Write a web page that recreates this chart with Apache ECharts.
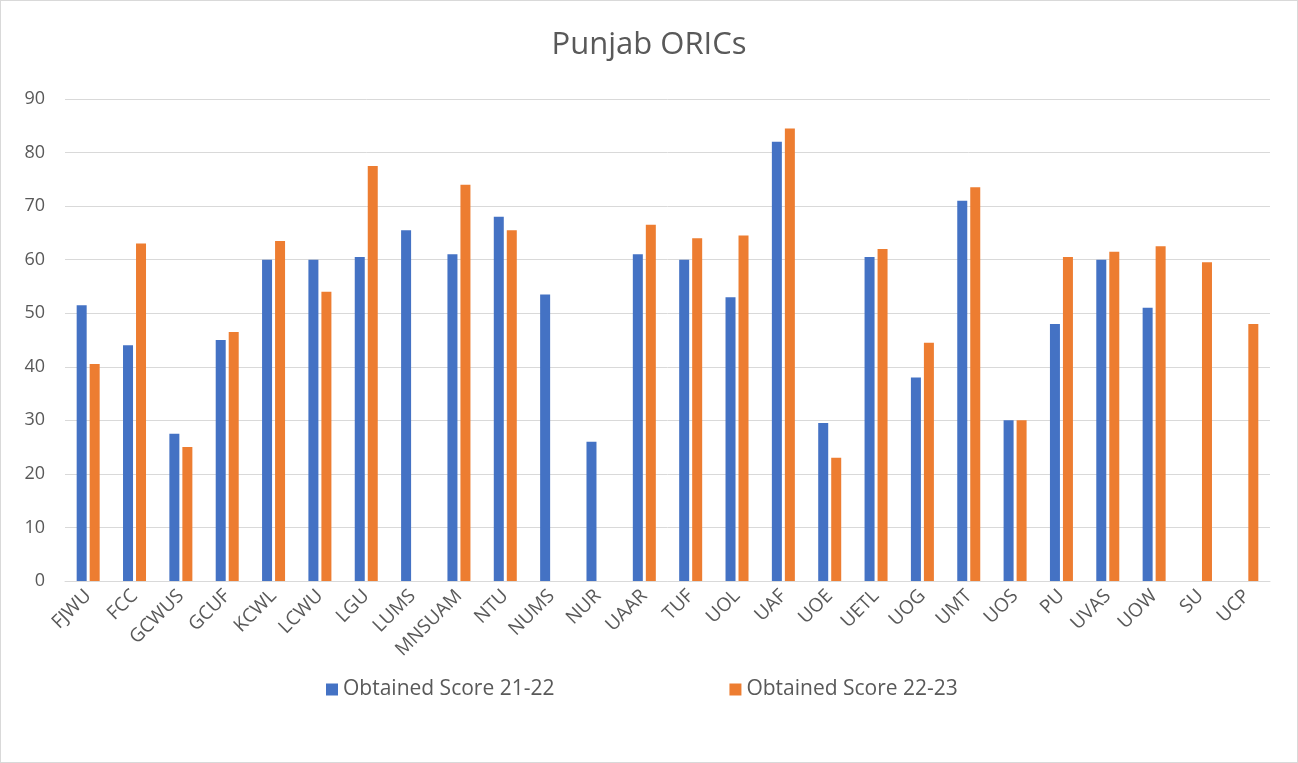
<!DOCTYPE html>
<html>
<head>
<meta charset="utf-8">
<script src="https://cdn.jsdelivr.net/npm/echarts@6/dist/echarts.min.js"></script>
<style>
  html, body { margin: 0; padding: 0; background: #fff; }
  #chart { width: 1296px; height: 761px; border: 1px solid #d9d9d9; }
</style>
</head>
<body>
<div id="chart"></div>
<script>
const categories = ['FJWU', 'FCC', 'GCWUS', 'GCUF', 'KCWL', 'LCWU', 'LGU', 'LUMS', 'MNSUAM', 'NTU',
  'NUMS', 'NUR', 'UAAR', 'TUF', 'UOL', 'UAF', 'UOE', 'UETL', 'UOG', 'UMT',
  'UOS', 'PU', 'UVAS', 'UOW', 'SU', 'UCP']
const score2122 = [51.5, 44, 27.5, 45, 60, 60, 60.5, 65.5, 61, 68,
  53.5, 26, 61, 60, 53, 82, 29.5, 60.5, 38, 71,
  30, 48, 60, 51, null, null]
const score2223 = [40.5, 63, 25, 46.5, 63.5, 54, 77.5, null, 74, 65.5,
  null, null, 66.5, 64, 64.5, 84.5, 23, 62, 44.5, 73.5,
  30, 60.5, 61.5, 62.5, 59.5, 48]
const yTicks = [0, 10, 20, 30, 40, 50, 60, 70, 80, 90]

const textColor = '#595959'
const font = '"Open Sans", Lato, sans-serif'

const chart = echarts.init(document.getElementById('chart'))
chart.setOption({
  animation: false,
  title: {
    text: 'Punjab ORICs',
    left: 'center',
    top: 24,
    textStyle: { color: textColor, fontSize: 31, fontWeight: 'normal', fontFamily: font },
  },
  legend: {
    bottom: 57,
    left: 320,
    itemGap: 175,
    itemWidth: 12,
    itemHeight: 12,
    icon: 'rect',
    textStyle: { color: textColor, fontSize: 21, fontFamily: font },
    data: ['Obtained Score 21-22', 'Obtained Score 22-23'],
  },
  grid: {
    left: 64,
    right: 27,
    top: 98,
    bottom: 181,
  },
  xAxis: {
    type: 'category',
    data: categories,
    axisLine: { lineStyle: { color: '#d9d9d9', width: 1 } },
    axisTick: { show: false },
    axisLabel: {
      rotate: 45,
      interval: 0,
      color: textColor,
      fontSize: 19,
      fontFamily: font,
      margin: 12,
    },
  },
  yAxis: {
    type: 'value',
    min: yTicks[0],
    max: yTicks[yTicks.length - 1],
    interval: 10,
    axisLine: { show: false },
    axisTick: { show: false },
    splitLine: { lineStyle: { color: '#d9d9d9', width: 1 } },
    axisLabel: { color: textColor, fontSize: 18, fontFamily: font, margin: 20 },
  },
  series: [
    {
      name: 'Obtained Score 21-22',
      type: 'bar',
      data: score2122,
      barWidth: 10,
      barGap: '30%',
      itemStyle: { color: '#4472c4' },
    },
    {
      name: 'Obtained Score 22-23',
      type: 'bar',
      data: score2223,
      barWidth: 10,
      barGap: '30%',
      itemStyle: { color: '#ed7d31' },
    },
  ],
})
</script>
</body>
</html>
